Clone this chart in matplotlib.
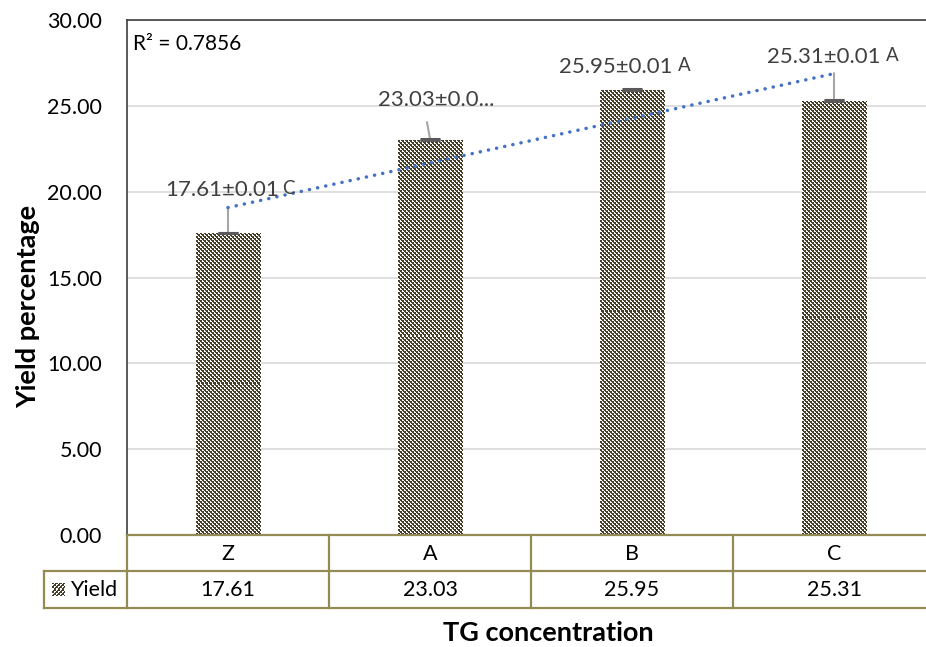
import numpy as np
import matplotlib
matplotlib.use("Agg")
import matplotlib.pyplot as plt
from matplotlib.colors import ListedColormap
from matplotlib.transforms import blended_transform_factory

# ---- data ----
categories = ["Z", "A", "B", "C"]
yields = [17.61, 23.03, 25.95, 25.31]
errors = [0.01, 0.01, 0.01, 0.01]
label_texts = ["17.61±0.01", "23.03±0.0...", "25.95±0.01", "25.31±0.01"]
label_letters = ["C", "", "A", "A"]
series_name = "Yield"
yticks = [0, 5, 10, 15, 20, 25, 30]

plt.rcParams['font.family'] = ['Lato', 'DejaVu Sans']

W, H = 926, 647
fig = plt.figure(figsize=(W / 100, H / 100), dpi=100)
ax = fig.add_axes([127 / W, 1 - 535 / H, (935 - 127) / W, (535 - 20) / H])

x = np.arange(len(categories))
bar_color = '#463e27'
bars = ax.bar(x, yields, width=0.32, color='none', edgecolor='none', zorder=3)
ax.set_xlim(-0.5, len(categories) - 0.5)
ax.set_ylim(0, 30)


def checker_pixels(ny, nx):
    i, j = np.indices((ny, nx))
    white = ((i // 2 + j // 2) % 2 == 1) & ~((i % 2 == 1) & (j % 2 == 1))
    return white.astype(int)


# checker texture inside bars
cmap = ListedColormap([bar_color, 'white'])
for b in bars:
    ext = b.get_window_extent()
    nx = max(1, int(round(ext.width)))
    ny = max(1, int(round(ext.height)))
    arr = checker_pixels(ny, nx)
    x0, y0 = b.get_x(), b.get_y()
    im = ax.imshow(arr, extent=(x0, x0 + b.get_width(), y0, y0 + b.get_height()),
                   cmap=cmap, interpolation='nearest', aspect='auto', zorder=3,
                   origin='lower')
    im.set_clip_path(b)
ax.set_xlim(-0.5, len(categories) - 0.5)
ax.set_ylim(0, 30)

# error bars
ax.errorbar(x, yields, yerr=errors, fmt='none', ecolor='#595959', elinewidth=1.2,
            capsize=7, capthick=2.2, zorder=4)

# trend line
coef = np.polyfit(x, yields, 1)
fit = np.polyval(coef, x)
ss_res = np.sum((np.array(yields) - fit) ** 2)
ss_tot = np.sum((np.array(yields) - np.mean(yields)) ** 2)
r2 = 1 - ss_res / ss_tot
ax.plot(x, fit, color='#4472c4', lw=2.5, linestyle=(0, (0.05, 2.35)),
        dash_capstyle='round', zorder=5)
ax.text(6 / 808, 0.953, f"R² = {r2:.4f}", transform=ax.transAxes, fontsize=15,
        color='black', va='center', ha='left')

# data labels with leader lines
label_pos = [(0.252, 2.5, 'right'), (0.03, 2.3, 'center'), (0.2, 1.31, 'right'), (0.228, 2.53, 'right')]
letter_gap = [2, 4, 4, 4]
leader_top = [(0.0, 19.1), (-0.015, 24.05), None, (0.0, 26.9)]
for i, (v, t, l) in enumerate(zip(yields, label_texts, label_letters)):
    dx, dy, ha = label_pos[i]
    txt = ax.text(x[i] + dx, v + dy, t, fontsize=16, color='#404040', ha=ha, va='center', zorder=6)
    if l:
        ax.annotate(l, xy=(1, 0.16), xycoords=txt, xytext=(letter_gap[i], 0),
                    textcoords='offset points', fontsize=13.5, color='#404040',
                    ha='left', va='bottom', zorder=6)
    if leader_top[i] is not None:
        lx, ly = leader_top[i]
        ax.annotate("", xy=(x[i], v + 0.05), xytext=(x[i] + lx, ly),
                    arrowprops=dict(arrowstyle='-', color='#a6a6a6', lw=1.5,
                                    shrinkA=0, shrinkB=0), zorder=2)

# axes styling
ax.set_yticks(yticks)
ax.set_yticklabels([f"{t:.2f}" for t in yticks], fontsize=15.5)
ax.tick_params(axis='y', length=0, pad=18, colors='black')
ax.set_xticks([])
ax.grid(axis='y', color='#d9d9d9', lw=1.2, zorder=0)
ax.set_axisbelow(True)
for s in ['left', 'top', 'right']:
    ax.spines[s].set_color('#404040')
    ax.spines[s].set_linewidth(1.2)
ax.spines['bottom'].set_visible(False)

# data table below the plot
line_c = '#948a54'
bt = blended_transform_factory(ax.transData, fig.transFigure)
fy = lambda py: 1 - py / H
y_top, y_mid, y_bot = 535, 571, 608
xl, xr = -0.5, len(categories) - 0.5
ax.plot([xl, xr + 0.5], [fy(y_top)] * 2, transform=bt, color=line_c, lw=1.6, clip_on=False, zorder=7)
fig.add_artist(plt.Line2D([44 / W, 1.05], [fy(y_mid)] * 2, color=line_c, lw=1.6))
fig.add_artist(plt.Line2D([44 / W, 1.05], [fy(y_bot)] * 2, color=line_c, lw=1.6))
for xv in np.arange(xl, xr + 0.01, 1.0):
    ax.plot([xv, xv], [fy(y_top), fy(y_bot)], transform=bt, color=line_c, lw=1.6, clip_on=False)
fig.add_artist(plt.Line2D([44 / W, 44 / W], [fy(y_mid), fy(y_bot)], color=line_c, lw=1.6))
for i, c in enumerate(categories):
    ax.text(x[i], fy((y_top + y_mid) / 2 + 1), c, transform=bt, ha='center', va='center',
            fontsize=15.5, color='black')
    ax.text(x[i], fy((y_mid + y_bot) / 2 + 1), f"{yields[i]:.2f}", transform=bt, ha='center',
            va='center', fontsize=15.5, color='black')
fig.text(70 / W, fy((y_mid + y_bot) / 2 + 1), series_name, ha='left', va='center', fontsize=15.5)
lax = fig.add_axes([52 / W, fy(596), 13 / W, 13 / H])
lax.imshow(checker_pixels(13, 13), cmap=cmap, interpolation='nearest', aspect='auto')
lax.axis('off')

fig.text(28 / W, fy(306), "Yield percentage", rotation=90, ha='center', va='center',
         fontsize=19.5, fontweight='bold')
fig.text(548 / W, fy(633), "TG concentration", ha='center', va='center',
         fontsize=19.5, fontweight='bold')

fig.savefig("out.png", dpi=100)
